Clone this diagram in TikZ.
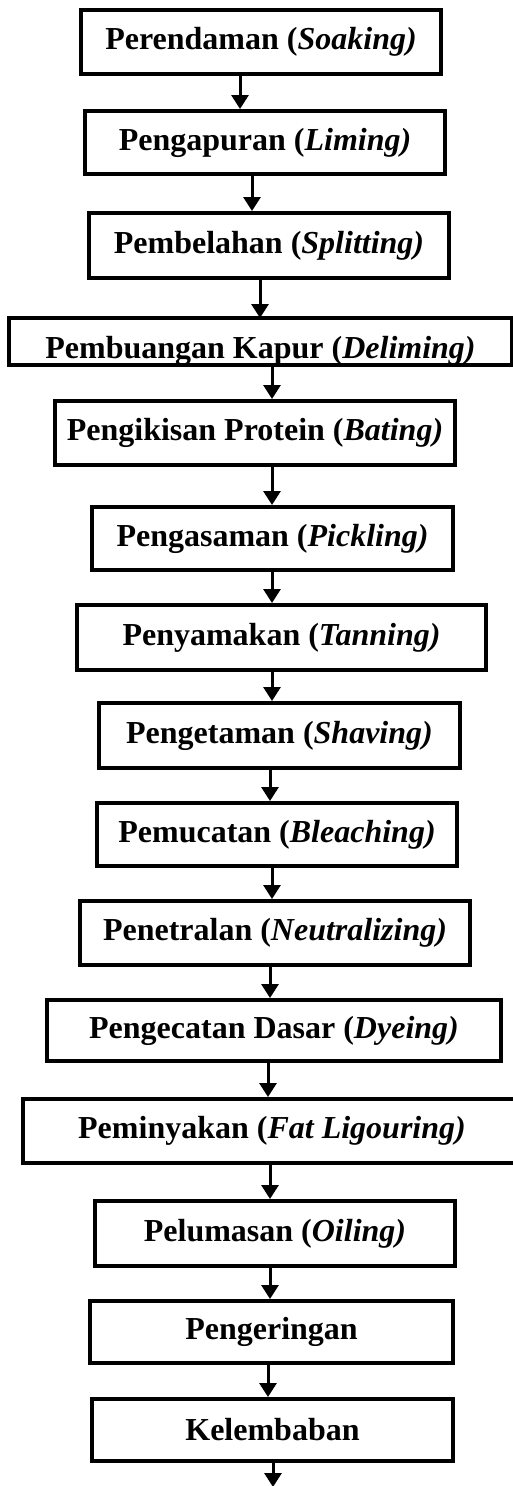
\documentclass[tikz,border=0pt]{standalone}
\usepackage{fontspec}
\setmainfont{Liberation Serif}
\usetikzlibrary{arrows.meta}
\tikzset{
  stepbox/.style={draw, line width=4pt, inner sep=0pt, align=center,
    font=\fontsize{32}{34}\selectfont\bfseries},
  flow/.style={line width=3pt, -{Triangle[width=17pt,length=14pt]}},
}
\newcommand{\boxat}[6]{%
  \node[stepbox, minimum width=#4, minimum height=#5] (#1) at (#2,#3) {#6};}
\begin{document}
\begin{tikzpicture}[x=1pt,y=-1pt]
\useasboundingbox (0,0) rectangle (513,1486);
\clip (0,0) rectangle (513,1486);
\boxat{b1}{261}{42}{360}{64}{Perendaman (\textit{Soaking)}}
\boxat{b2}{265}{142.5}{360}{63}{Pengapuran (\textit{Liming)}}
\boxat{b3}{269}{245.5}{360}{65}{Pembelahan (\textit{Splitting)}}
% the fourth step is a low box with its text sitting on the lower edge
\node[stepbox, draw=none, minimum width=499, text height=36pt, text depth=2pt,
  minimum height=43] (b4) at (260.5,341.5) {Pembuangan Kapur (\textit{Deliming)}};
\draw[line width=4pt] (b4.north west) rectangle (b4.south east);
\boxat{b5}{255}{433}{400}{64}{Pengikisan Protein (\textit{Bating)}}
\boxat{b6}{272.5}{538.5}{361}{63}{Pengasaman (\textit{Pickling)}}
\boxat{b7}{281.5}{637.5}{409}{65}{Penyamakan (\textit{Tanning)}}
\boxat{b8}{279.5}{735.5}{361}{65}{Pengetaman (\textit{Shaving)}}
\boxat{b9}{277}{834.5}{360}{63}{Pemucatan (\textit{Bleaching)}}
\boxat{b10}{275}{933}{390}{64}{Penetralan (\textit{Neutralizing)}}
\boxat{b11}{274}{1030.5}{454}{61}{Pengecatan Dasar (\textit{Dyeing)}}
\boxat{b12}{272}{1131}{498}{64}{Peminyakan (\textit{Fat Ligouring)}}
\boxat{b13}{275}{1233.5}{360}{65}{Pelumasan (\textit{Oiling)}}
\boxat{b14}{271.5}{1332}{363}{62}{Pengeringan}
\boxat{b15}{272.5}{1430}{361}{62}{Kelembaban}
\coordinate (end) at (273,1487);
% connectors between consecutive steps
\draw[flow] (240,0 |- b1.south) -- (240,0 |- b2.north);
\draw[flow] (252,0 |- b2.south) -- (252,0 |- b3.north);
\draw[flow] (260,0 |- b3.south) -- (260,0 |- b4.north);
\draw[flow] (272,0 |- b4.south) -- (272,0 |- b5.north);
\draw[flow] (272,0 |- b5.south) -- (272,0 |- b6.north);
\draw[flow] (272,0 |- b6.south) -- (272,0 |- b7.north);
\draw[flow] (272,0 |- b7.south) -- (272,0 |- b8.north);
\draw[flow] (270,0 |- b8.south) -- (270,0 |- b9.north);
\draw[flow] (272,0 |- b9.south) -- (272,0 |- b10.north);
\draw[flow] (270,0 |- b10.south) -- (270,0 |- b11.north);
\draw[flow] (268,0 |- b11.south) -- (268,0 |- b12.north);
\draw[flow] (270,0 |- b12.south) -- (270,0 |- b13.north);
\draw[flow] (270,0 |- b13.south) -- (270,0 |- b14.north);
\draw[flow] (268,0 |- b14.south) -- (268,0 |- b15.north);
\draw[flow] (273,0 |- b15.south) -- (end);
\end{tikzpicture}
\end{document}
